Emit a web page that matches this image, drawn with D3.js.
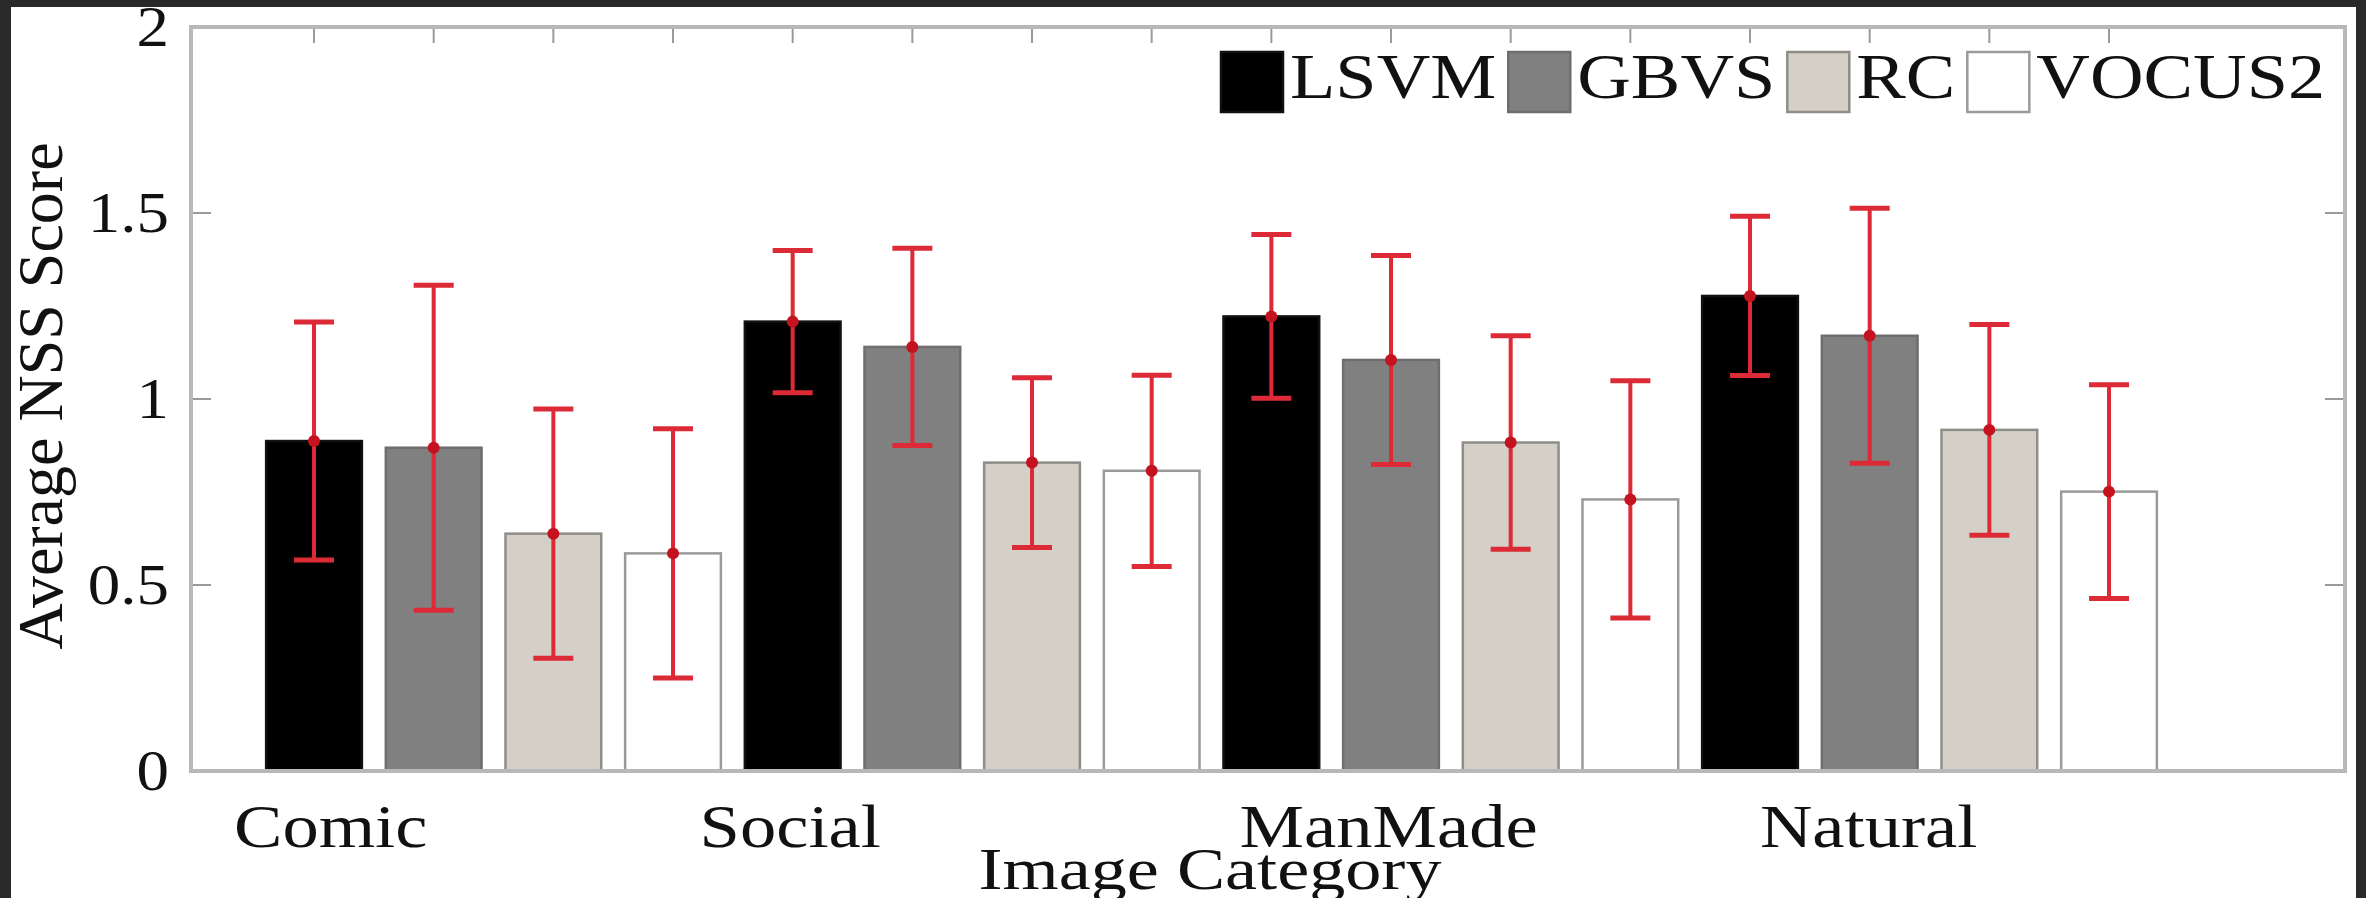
<!DOCTYPE html>
<html>
<head>
<meta charset="utf-8">
<script src="https://cdn.jsdelivr.net/npm/d3@7"></script>
<style>
  html, body { margin: 0; padding: 0; background: #2a2a2a; overflow: hidden; }
  svg { display: block; }
</style>
</head>
<body>
<script>
// ---------- data ----------
const categories = ["Comic", "Social", "ManMade", "Natural"];
const seriesNames = ["LSVM", "GBVS", "RC", "VOCUS2"];
const lsvmMean   = [0.887, 1.208, 1.222, 1.277];
const gbvsMean   = [0.869, 1.140, 1.105, 1.170];
const rcMean     = [0.638, 0.829, 0.883, 0.917];
const vocus2Mean = [0.585, 0.807, 0.730, 0.751];
const lsvmStd    = [0.320, 0.191, 0.220, 0.214];
const gbvsStd    = [0.437, 0.265, 0.281, 0.343];
const rcStd      = [0.335, 0.228, 0.287, 0.283];
const vocus2Std  = [0.335, 0.257, 0.319, 0.287];
const yTickValues = [0, 0.5, 1, 1.5, 2];
const yTickLabels = ["0", "0.5", "1", "1.5", "2"];
const categoryLabelX = [0.66, 1.62, 2.87, 3.873]; // axis units where the category names sit
const xLabel = "Image Category";
const yLabel = "Average NSS Score";

// ---------- style ----------
const fills = ["#000000", "#808080", "#d4d0c8", "#ffffff"];
const edges = ["#111111", "#6e6e6e", "#8f8d88", "#9a9a9a"];
const errColor = "#dc2a36";
const font = "'Liberation Serif', 'Times New Roman', serif";

const means = [lsvmMean, gbvsMean, rcMean, vocus2Mean];
const stds = [lsvmStd, gbvsStd, rcStd, vocus2Std];

const W = 2366, H = 898;
const svg = d3.select("body").append("svg").attr("width", W).attr("height", H);

svg.append("rect").attr("x", 0).attr("y", 0).attr("width", W).attr("height", H).attr("fill", "#2a2a2a");
svg.append("rect").attr("x", 11).attr("y", 7).attr("width", 2356 - 11).attr("height", H - 7).attr("fill", "#ffffff");

const x = d3.scaleLinear().domain([0.368, 4.868]).range([191, 2345]);
const y = d3.scaleLinear().domain([0, 2]).range([771, 27]);

const nS = seriesNames.length;
const slot = 0.25, barW = 0.2;
const records = [];
categories.forEach((c, gi) => {
  seriesNames.forEach((s, si) => {
    records.push({ g: gi, s: si, cx: gi + 1 + (si - (nS - 1) / 2) * slot, v: means[si][gi], e: stds[si][gi] });
  });
});

// top ticks at each bar position (drawn beneath marks)
const tickG = svg.append("g");
tickG.selectAll("line.top").data(records).join("line")
  .attr("x1", d => x(d.cx)).attr("x2", d => x(d.cx))
  .attr("y1", y(2)).attr("y2", y(2) + 16)
  .attr("stroke", "#9a9a9a").attr("stroke-width", 2);
// inner y ticks left and right
const innerY = yTickValues.filter(v => v > 0 && v < 2);
tickG.selectAll("line.l").data(innerY).join("line")
  .attr("x1", x.range()[0]).attr("x2", x.range()[0] + 20)
  .attr("y1", d => y(d)).attr("y2", d => y(d))
  .attr("stroke", "#9a9a9a").attr("stroke-width", 2);
tickG.selectAll("line.r").data(innerY).join("line")
  .attr("x1", x.range()[1]).attr("x2", x.range()[1] - 20)
  .attr("y1", d => y(d)).attr("y2", d => y(d))
  .attr("stroke", "#9a9a9a").attr("stroke-width", 2);

// bars
const pxW = x(barW) - x(0);
svg.append("g").selectAll("rect").data(records).join("rect")
  .attr("x", d => x(d.cx) - pxW / 2)
  .attr("y", d => y(d.v))
  .attr("width", pxW)
  .attr("height", d => y(0) - y(d.v))
  .attr("fill", d => fills[d.s])
  .attr("stroke", d => edges[d.s])
  .attr("stroke-width", 2.5);

// error bars
const eg = svg.append("g");
const capHalf = 20;
eg.selectAll("line.v").data(records).join("line")
  .attr("x1", d => x(d.cx)).attr("x2", d => x(d.cx))
  .attr("y1", d => y(d.v + d.e)).attr("y2", d => y(d.v - d.e))
  .attr("stroke", errColor).attr("stroke-width", 4);
eg.selectAll("line.t").data(records).join("line")
  .attr("x1", d => x(d.cx) - capHalf).attr("x2", d => x(d.cx) + capHalf)
  .attr("y1", d => y(d.v + d.e)).attr("y2", d => y(d.v + d.e))
  .attr("stroke", errColor).attr("stroke-width", 5);
eg.selectAll("line.b").data(records).join("line")
  .attr("x1", d => x(d.cx) - capHalf).attr("x2", d => x(d.cx) + capHalf)
  .attr("y1", d => y(d.v - d.e)).attr("y2", d => y(d.v - d.e))
  .attr("stroke", errColor).attr("stroke-width", 5);
eg.selectAll("circle").data(records).join("circle")
  .attr("cx", d => x(d.cx)).attr("cy", d => y(d.v)).attr("r", 6)
  .attr("fill", "#c4121e");

// axes box
svg.append("rect")
  .attr("x", x.range()[0]).attr("y", y(2))
  .attr("width", x.range()[1] - x.range()[0]).attr("height", y(0) - y(2))
  .attr("fill", "none").attr("stroke", "#b8b8b8").attr("stroke-width", 4);

// y axis labels
const yAxis = svg.append("g").attr("transform", `translate(${x.range()[0]},0)`)
  .call(d3.axisLeft(y).tickValues(yTickValues).tickFormat((d, i) => yTickLabels[i]).tickSize(0).tickPadding(22));
yAxis.select(".domain").remove();
yAxis.selectAll("text")
  .attr("font-family", font).attr("font-size", 58).attr("fill", "#111")
  .each(function () { const l = this.getComputedTextLength(); d3.select(this).attr("textLength", l * 1.12).attr("lengthAdjust", "spacingAndGlyphs"); });

function stretch(sel, k) {
  sel.each(function () {
    const l = this.getComputedTextLength();
    d3.select(this).attr("textLength", l * k).attr("lengthAdjust", "spacingAndGlyphs");
  });
}

// category labels
const catText = svg.append("g").selectAll("text").data(categories).join("text")
  .attr("x", (d, i) => x(categoryLabelX[i]))
  .attr("y", 847)
  .attr("text-anchor", "middle")
  .attr("font-family", font).attr("font-size", 62).attr("fill", "#111")
  .text(d => d);
stretch(catText, 1.17);

// x title
const xt = svg.append("text")
  .attr("x", 1210).attr("y", 889).attr("text-anchor", "middle")
  .attr("font-family", font).attr("font-size", 60).attr("fill", "#111")
  .text(xLabel);
xt.attr("textLength", 463).attr("lengthAdjust", "spacingAndGlyphs");

// y title
svg.append("text")
  .attr("transform", "translate(62,396) rotate(-90)")
  .attr("text-anchor", "middle")
  .attr("font-family", font).attr("font-size", 64).attr("fill", "#111")
  .text(yLabel);

// legend
const lg = svg.append("g");
let lx = 1221;
seriesNames.forEach((name, i) => {
  lg.append("rect").attr("x", lx).attr("y", 52).attr("width", 62).attr("height", 60)
    .attr("fill", fills[i]).attr("stroke", edges[i]).attr("stroke-width", 2.5);
  const t = lg.append("text").attr("x", lx + 69).attr("y", 98)
    .attr("font-family", font).attr("font-size", 64).attr("fill", "#111").text(name);
  const len = t.node().getComputedTextLength() * 1.16;
  t.attr("textLength", len).attr("lengthAdjust", "spacingAndGlyphs");
  lx += 69 + len + 12;
});
</script>
</body>
</html>
